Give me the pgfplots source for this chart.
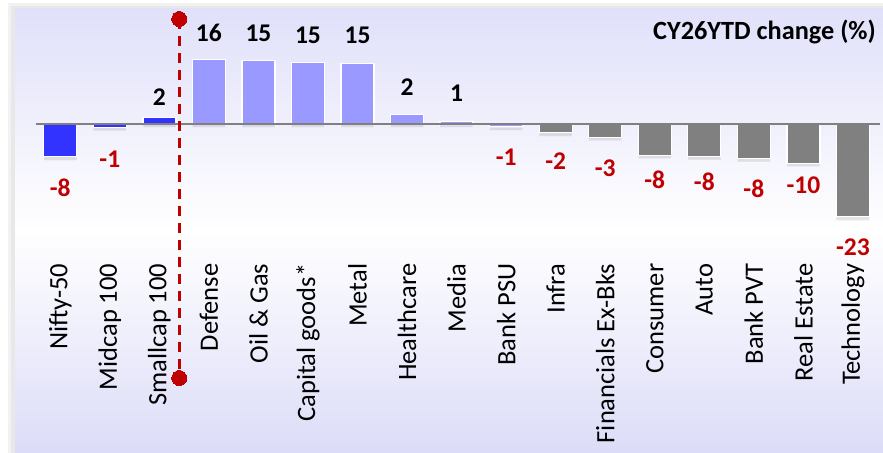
\documentclass[border=0pt]{standalone}
\usepackage{pgfplots}
\pgfplotsset{compat=1.18}
\usepackage{fontspec}
\setmainfont{Carlito}
\usetikzlibrary{shadows}
\definecolor{dblue}{HTML}{3333FF}
\definecolor{lav}{HTML}{9999FF}
\definecolor{gbar}{HTML}{808080}
\definecolor{dred}{HTML}{C00000}
\definecolor{bgtop}{HTML}{E0E0FA}
\definecolor{bgbot}{HTML}{DCDCF8}
\pgfplotstableread{
x y
0 -8.2
1 -0.9
2 1.7
}\blue
\pgfplotstableread{
x y
3 16.2
4 15.8
5 15.4
6 15.2
7 2.3
8 0.65
9 -0.7
}\lavender
\pgfplotstableread{
x y
10 -2.2
11 -3.3
12 -7.8
13 -8.1
14 -8.6
15 -9.8
16 -23.2
}\grey
\pgfplotstableread{
x y t
2 6.7 2
3 22.8 16
4 22.7 15
5 22.25 15
6 22.25 15
7 9.1 2
8 7.7 1
}\poslab
\pgfplotstableread{
x y t
0 -15.9 -8
1 -8.8 -1
9 -8.2 -1
10 -9.4 -2
11 -11.1 -3
12 -14 -8
13 -14.4 -8
14 -16.1 -8
15 -15.25 -10
16 -30.7 -23
}\neglab
\begin{document}
\begin{tikzpicture}
\path[use as bounding box] (0,0) rectangle (883bp,453bp);
\fill[black!5] (8bp,0) rectangle (883bp,450bp);
\fill[black!9] (11bp,0) rectangle (883bp,447bp);
\shade[top color=bgtop, bottom color=bgbot, middle color=white] (15bp,0) rectangle (883bp,444bp);
\begin{axis}[
  at={(0bp,191bp)}, anchor=south west,
  x=49.54bp, y=4bp,
  xmin=-1.217, xmax=16.607, ymin=-34.5, ymax=31,
  clip=false,
  axis line style={draw=none},
  ytick=\empty,
  xtick={0,...,16},
  xticklabels={Nifty-50, Midcap 100, Smallcap 100, Defense, Oil \& Gas, Capital goods*, Metal, Healthcare, Media, Bank PSU, Infra, Financials Ex-Bks, Consumer, Auto, Bank PVT, Real Estate, Technology},
  major tick length=0pt,
  xticklabel style={rotate=90, anchor=east, inner sep=1.5bp, font=\fontsize{26.5bp}{30bp}\selectfont},
  barsty/.style={ybar, bar width=33bp, bar shift=0pt, draw=white, line width=1.3bp,
     drop shadow={shadow xshift=0bp, shadow yshift=-3.5bp, opacity=0.2}},
  labsty/.style={draw=none, mark=none, nodes near coords={\pgfplotspointmeta},
     nodes near coords align=center, point meta=explicit symbolic,
     every node near coord/.style={font=\bfseries\fontsize{25.5bp}{30bp}\selectfont, text=#1, inner sep=0pt, anchor=center}},
]
\addplot[barsty, fill=dblue] table[x=x,y=y] {\blue};
\addplot[barsty, fill=lav] table[x=x,y=y] {\lavender};
\addplot[barsty, fill=gbar] table[x=x,y=y] {\grey};
\draw[gbar, line width=2bp] (axis cs:-0.49,0) -- (axis cs:16.55,0);
\addplot[dred, line width=3bp, dash pattern=on 10bp off 7bp, mark=*, mark size=7.5bp, mark options={solid, fill=dred, draw=dred, line width=0pt}] coordinates {(2.402,26.25) (2.402,-63.5)};
\addplot[labsty=black] table[x=x,y=y,meta=t] {\poslab};
\addplot[labsty=dred] table[x=x,y=y,meta=t] {\neglab};
\end{axis}
\node[anchor=east, inner sep=0pt, font=\bfseries\fontsize{26.3bp}{30bp}\selectfont] at (876bp,421bp) {CY26YTD change (\%)};
\end{tikzpicture}
\end{document}
